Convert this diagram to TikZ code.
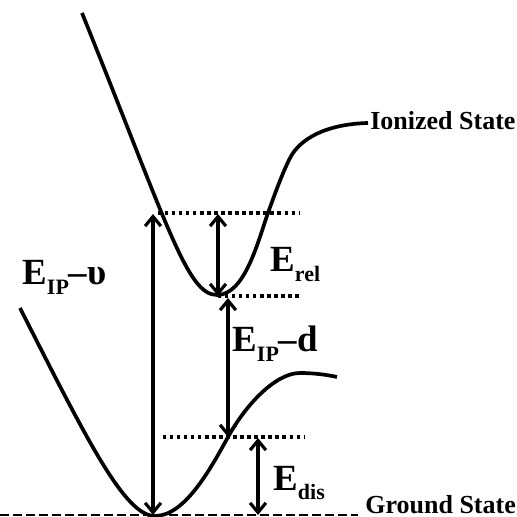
\documentclass[tikz,border=0pt]{standalone}
\usepackage{fontspec}
\setmainfont{Liberation Serif}
\usetikzlibrary{arrows.meta}
\newcommand{\Elab}[2]{{\fontsize{21}{21}\selectfont E}\raisebox{-5.5pt}{\fontsize{12.5}{12.5}\selectfont #1}{\fontsize{21}{21}\selectfont #2}}

\begin{document}
\begin{tikzpicture}[x=0.02cm, y=0.02cm,
        curve/.style={line width=2.1pt},
        level/.style={line width=2pt, dash pattern=on 1.9pt off 2.1pt},
        ground/.style={line width=1.1pt, dash pattern=on 5pt off 2.4pt},
        gap/.style={{Straight Barb[length=5.5pt,width=9pt]}-{Straight Barb[length=5.5pt,width=9pt]}, line width=1.8pt},
        energy/.style={font=\bfseries, inner sep=0pt, anchor=base west},
        statetext/.style={font=\fontsize{14.8}{14.8}\selectfont\bfseries, inner sep=0pt, anchor=west}]

        \useasboundingbox (0,0) rectangle (517,517);

        % Ionized State
        \node[statetext] (ionized) at (370,396) {Ionized State};
        \coordinate (iontop) at (82,504);
        \coordinate (ionmin) at (217,222);
        \coordinate (ionend) at (368,394);
        \draw[curve] (iontop) .. controls (168,291) and (187,222) .. (ionmin)
            .. controls (245,222) and (258,276) .. (268,304)
            .. controls (273,318) and (285,352) .. (293,364)
            .. controls (305,381) and (330,393) .. (ionend);

        % Ground State
        \node[statetext] (ground) at (365,12) {Ground State};
        \coordinate (gstop) at (20,209);
        \coordinate (gsmin) at (155,1);
        \coordinate (gsend) at (337,140);
        \draw[curve] (gstop) .. controls (88,75) and (125,1) .. (gsmin)
            .. controls (185,1) and (211,49) .. (228,80)
            .. controls (245,111) and (275,144) .. (300,144)
            .. controls (315,144) and (328,142) .. (gsend);

        % levels
        \coordinate (vertL) at (158,304);
        \coordinate (vertR) at (300,304);
        \coordinate (ionminL) at (218,221);
        \coordinate (ionminR) at (300,221);
        \coordinate (disL) at (163,80);
        \coordinate (disR) at (305,80);
        \coordinate (gsL) at (0,2);
        \coordinate (gsR) at (358,2);
        \draw[level] (vertL) -- (vertR);
        \draw[level] (ionminL) -- (ionminR);
        \draw[level] (disL) -- (disR);
        \draw[ground] (gsL) -- (gsR);

        % Gaps
        \coordinate (v1) at (153,303);
        \coordinate (v2) at (153,2);
        \coordinate (r1) at (218,303);
        \coordinate (r2) at (218,221);
        \coordinate (d1) at (228,219);
        \coordinate (d2) at (228,80);
        \coordinate (s1) at (258,79);
        \coordinate (s2) at (258,2);
        \draw[gap] (v1) -- (v2);
        \draw[gap] (r1) -- (r2);
        \draw[gap] (d1) -- (d2);
        \draw[gap] (s1) -- (s2);

        \node[energy] (eipv) at (22,232) {\Elab{IP}{–υ}};
        \node[energy] (erel) at (270,245) {\Elab{rel}{}};
        \node[energy] (eipd) at (232,165) {\Elab{IP}{–d}};
        \node[energy] (edis) at (273,27) {\Elab{dis}{}};
    \end{tikzpicture}
\end{document}
